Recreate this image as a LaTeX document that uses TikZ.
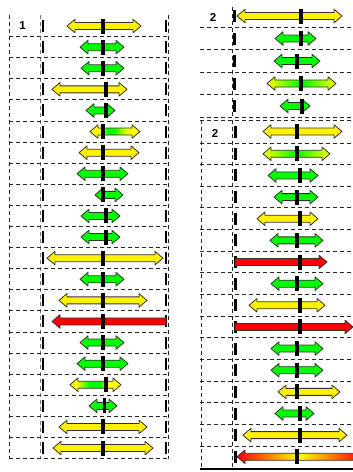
\documentclass[tikz,border=0pt]{standalone}
\usepackage{fontspec}
\setmainfont{Liberation Sans}
\pgfdeclarehorizontalshading{ygA}{100bp}{color(0bp)=(yellow); color(25bp)=(yellow); color(37bp)=(yellow); color(42bp)=(green); color(48bp)=(green); color(63bp)=(yellow); color(100bp)=(yellow)}
\pgfdeclarehorizontalshading{ygB}{100bp}{color(0bp)=(yellow); color(25bp)=(yellow); color(31bp)=(yellow); color(44bp)=(green); color(55bp)=(green); color(62bp)=(yellow); color(100bp)=(yellow)}
\newcommand\myDbl[4]{% x1, x2, y, style
  \path[#4] ({#1},{#3}) -- ({#1+8},{#3-6.8}) -- ({#1+8},{#3-3.5}) -- ({#2-8},{#3-3.5}) -- ({#2-8},{#3-6.8}) -- ({#2},{#3})
    -- ({#2-8},{#3+6.8}) -- ({#2-8},{#3+3.5}) -- ({#1+8},{#3+3.5}) -- ({#1+8},{#3+6.8}) -- cycle;}
\newcommand\myLarr[4]{% x1 (tip), x2 (flat end), y, style
  \path[#4] ({#1},{#3}) -- ({#1+8},{#3-6.8}) -- ({#1+8},{#3-3.5}) -- ({#2},{#3-3.5}) -- ({#2},{#3+3.5}) -- ({#1+8},{#3+3.5}) -- ({#1+8},{#3+6.8}) -- cycle;}
\newcommand\myRarr[4]{% x1 (flat end), x2 (tip), y, style
  \path[#4] ({#1},{#3-3.5}) -- ({#2-8},{#3-3.5}) -- ({#2-8},{#3-6.8}) -- ({#2},{#3}) -- ({#2-8},{#3+6.8}) -- ({#2-8},{#3+3.5}) -- ({#1},{#3+3.5}) -- cycle;}
\newcommand\myCtk[2]{\fill[black] ({#1-1.6},{#2-7.5}) rectangle ({#1+1.6},{#2+7.5});}
\newcommand\myBtk[2]{\fill[black] ({#1-1.1},{#2-6}) rectangle ({#1+1.1},{#2+6});}
\begin{document}
\begin{tikzpicture}[x=1pt,y=-1pt,
  grid/.style={dash pattern=on 4pt off 3pt, line width=0.9pt, black!85},
  gridg/.style={dash pattern=on 4pt off 3pt, line width=0.9pt, black!55},
  arr/.style={draw=black!80, line width=0.8pt, line join=round},
  Y/.style={arr, fill=yellow},
  G/.style={arr, fill=green},
  R/.style={arr, fill=red},
  YGY/.style={arr, shade, left color=yellow, right color=yellow, middle color=green},
  YGA/.style={arr, shade, shading=ygA},
  YGB/.style={arr, shade, shading=ygB},
  RYR/.style={arr, shade, left color=red, right color=red, middle color=yellow},
  lbl/.style={font=\bfseries\fontsize{11.5}{12}\selectfont, inner sep=0pt}
]
\clip (0,0) rectangle (353,472);
\fill[white] (0,0) rectangle (353,472);

% ---------------- left panel grid ----------------
\draw[grid] (9,15) -- (9,459);
\draw[gridg] (40,15) -- (40,459);
\draw[grid] (168,15) -- (168,459);
\foreach \k in {1,...,21} {\draw[grid] (9,{15.5+21.1*\k}) -- (168,{15.5+21.1*\k});}
\node[lbl] (l1) at (22.5,26) {1};
\foreach \k in {1,...,21} {
  \myBtk{43.3}{4.95+21.1*\k}
  \myBtk{166}{4.95+21.1*\k}
}

% ---------------- left panel arrows ----------------
\myDbl{67}{141}{4.95+21.1*1}{Y}   \myCtk{103}{4.95+21.1*1}
\myDbl{80}{124}{4.95+21.1*2}{G}   \myCtk{103}{4.95+21.1*2}
\myDbl{81}{124}{4.95+21.1*3}{G}   \myCtk{103}{4.95+21.1*3}
\myDbl{52}{127}{4.95+21.1*4}{Y}   \myCtk{106}{4.95+21.1*4}
\myDbl{86}{115}{4.95+21.1*5}{G}   \myCtk{106}{4.95+21.1*5}
\myDbl{90}{140}{4.95+21.1*6}{YGA} \myCtk{103}{4.95+21.1*6}
\myDbl{79}{139}{4.95+21.1*7}{Y}   \myCtk{103}{4.95+21.1*7}
\myDbl{77}{128}{4.95+21.1*8}{G}   \myCtk{103}{4.95+21.1*8}
\myDbl{95}{123}{4.95+21.1*9}{G}   \myCtk{103}{4.95+21.1*9}
\myDbl{81}{120}{4.95+21.1*10}{G}  \myCtk{106}{4.95+21.1*10}
\myDbl{81}{120}{4.95+21.1*11}{G}  \myCtk{106}{4.95+21.1*11}
\myDbl{47}{163}{4.95+21.1*12}{Y}  \myCtk{103}{4.95+21.1*12}
\myDbl{80}{124}{4.95+21.1*13}{G}  \myCtk{103}{4.95+21.1*13}
\myDbl{59}{147}{4.95+21.1*14}{Y}  \myCtk{103}{4.95+21.1*14}
\myLarr{52}{166}{4.95+21.1*15}{R} \myCtk{103}{4.95+21.1*15}
\myDbl{80}{124}{4.95+21.1*16}{G}  \myCtk{103}{4.95+21.1*16}
\myDbl{77}{128}{4.95+21.1*17}{G}  \myCtk{103}{4.95+21.1*17}
\myDbl{70}{121}{4.95+21.1*18}{YGB}\myCtk{106}{4.95+21.1*18}
\myDbl{89}{117}{4.95+21.1*19}{G}  \myCtk{104.5}{4.95+21.1*19}
\myDbl{59}{147}{4.95+21.1*20}{Y}  \myCtk{103}{4.95+21.1*20}
\myDbl{53}{153}{4.95+21.1*21}{Y}  \myCtk{103}{4.95+21.1*21}

% ---------------- right panel, top section ----------------
\draw[grid] (232,7) -- (232,117.5);
\foreach \yy in {27,49.5,72,94.5,117.5} {\draw[grid] (200,\yy) -- (353,\yy);}
\node[lbl] (r1) at (213,17) {2};
\foreach \yy in {16,38.5,61,83.5,106} {\myBtk{234.5}{\yy}}
\myDbl{237}{342}{16}{Y}    \myCtk{301}{16}
\myDbl{275}{316}{38.5}{G}  \myCtk{301}{38.5}
\myDbl{274}{320}{61}{G}    \myCtk{297}{61}
\myDbl{267}{336}{83.5}{YGY}\myCtk{301}{83.5}
\myDbl{280}{310}{106}{G}   \myCtk{302}{106}

% ---------------- right panel, second section ----------------
\draw[grid] (200,120) -- (353,120);
\draw[grid] (201,120) -- (201,468);
\draw[grid] (232.5,120) -- (232.5,468);
\foreach \k in {1,...,15} {\draw[grid] (200,{143+21.64*(\k-1)}) -- (353,{143+21.64*(\k-1)});}
\draw[black, line width=1.6pt] (200,469) -- (353,469);
\node[lbl] (r2) at (215,133) {2};
\myBtk{235.5}{131.5}
\foreach \k in {2,...,16} {\myBtk{235.5}{143+21.64*(\k-1.5)}}

\myDbl{263}{342}{131.5}{Y}              \myCtk{297}{131.5}
\myDbl{263}{330}{143+21.64*0.5}{YGY}    \myCtk{297}{143+21.64*0.5}
\myDbl{268}{318}{143+21.64*1.5}{G}      \myCtk{300}{143+21.64*1.5}
\myDbl{274}{318}{143+21.64*2.5}{G}      \myCtk{297}{143+21.64*2.5}
\myDbl{257}{318}{143+21.64*3.5}{Y}      \myCtk{300}{143+21.64*3.5}
\myDbl{270}{323}{143+21.64*4.5}{G}      \myCtk{297}{143+21.64*4.5}
\myRarr{235}{327}{143+21.64*5.5}{R}     \myCtk{300}{143+21.64*5.5}
\myDbl{271}{323}{143+21.64*6.5}{G}      \myCtk{297}{143+21.64*6.5}
\myDbl{249}{325}{143+21.64*7.5}{Y}      \myCtk{300}{143+21.64*7.5}
\myRarr{235}{353}{143+21.64*8.5}{R}     \myCtk{300}{143+21.64*8.5}
\myDbl{271}{323}{143+21.64*9.5}{G}      \myCtk{297}{143+21.64*9.5}
\myDbl{271}{323}{143+21.64*10.5}{G}     \myCtk{297}{143+21.64*10.5}
\myDbl{278}{340}{143+21.64*11.5}{Y}     \myCtk{297}{143+21.64*11.5}
\myDbl{275}{314}{143+21.64*12.5}{G}     \myCtk{300}{143+21.64*12.5}
\myDbl{243}{347}{143+21.64*13.5}{Y}     \myCtk{300}{143+21.64*13.5}
\myDbl{237}{362}{143+21.64*14.5}{RYR}   \myCtk{297}{143+21.64*14.5}
\end{tikzpicture}
\end{document}
